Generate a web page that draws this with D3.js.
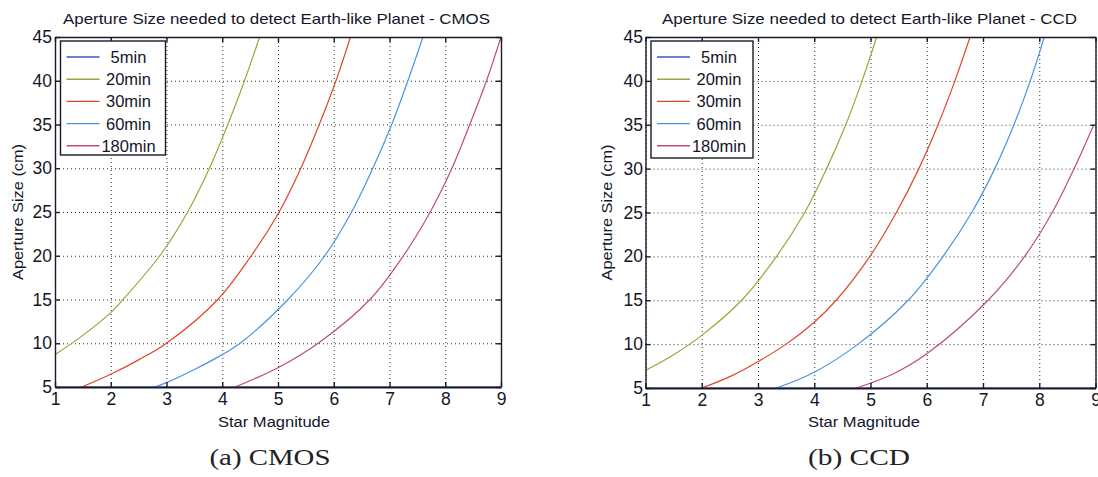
<!DOCTYPE html>
<html>
<head>
<meta charset="utf-8">
<script src="https://cdn.jsdelivr.net/npm/d3@7"></script>
<style>
  body { margin: 0; background: #fff; }
  svg { display: block; }
  text { font-family: "Liberation Sans", Arial, sans-serif; fill: #15152a; }
  .caption { font-family: "Liberation Serif", "DejaVu Serif", serif; fill: #222; }
</style>
</head>
<body>
<svg id="chart" width="1098" height="477"></svg>
<script>
// ticks
var magTicks = [1, 2, 3, 4, 5, 6, 7, 8, 9];
var apTicks = [5, 10, 15, 20, 25, 30, 35, 40, 45];

// legend
var seriesLabels = ["5min", "20min", "30min", "60min", "180min"];
var seriesColors = ["#4553c2", "#8fac3a", "#e0452a", "#4a93e6", "#c04c7c"];

// CMOS curves: [star magnitude, aperture cm]
var cmos5 = [[1, 5], [9, 5]];
var cmos20 = [[1, 8.7], [1.5, 10.9], [2, 13.5], [2.22, 15], [2.88, 20], [3.38, 25], [3.77, 30], [4.1, 35], [4.4, 40], [4.67, 45]];
var cmos30 = [[1.48, 5], [2, 6.45], [2.5, 8.1], [3, 10], [3.92, 15], [4.52, 20], [5.02, 25], [5.41, 30], [5.74, 35], [6.04, 40], [6.3, 45]];
var cmos60 = [[2.79, 5], [3, 5.5], [3.5, 7], [4, 8.7], [4.32, 10], [5.18, 15], [5.84, 20], [6.32, 25], [6.7, 30], [7.04, 35], [7.33, 40], [7.6, 45]];
var cmos180 = [[4.23, 5], [5, 7.2], [5.72, 10], [6.65, 15], [7.25, 20], [7.73, 25], [8.12, 30], [8.44, 35], [8.74, 40], [9, 45]];

// CCD curves
var ccd5 = [[1, 5], [9, 5]];
var ccd20 = [[1, 7], [1.5, 8.8], [2, 11], [2.71, 15], [3.33, 20], [3.83, 25], [4.22, 30], [4.56, 35], [4.85, 40], [5.11, 45]];
var ccd30 = [[2, 5], [2.5, 6.3], [3, 8], [3.5, 10], [4, 12.5], [4.39, 15], [4.99, 20], [5.46, 25], [5.86, 30], [6.2, 35], [6.5, 40], [6.77, 45]];
var ccd60 = [[3.33, 5], [4, 6.8], [4.78, 10], [5.67, 15], [6.29, 20], [6.8, 25], [7.21, 30], [7.55, 35], [7.84, 40], [8.09, 45]];
var ccd180 = [[4.75, 5], [5.4, 6.6], [6, 8.9], [7.09, 15], [7.74, 20], [8.23, 25], [8.62, 30], [8.97, 35]];

var svg = d3.select("#chart");

function drawPanel(opts) {
  var x = d3.scaleLinear().domain([1, 9]).range([opts.left, opts.right]);
  var y = d3.scaleLinear().domain([5, 45]).range([opts.bottom, opts.top]);
  var g = svg.append("g");

  var clipId = "clip-" + opts.id;
  g.append("clipPath").attr("id", clipId)
    .append("rect")
    .attr("x", opts.left).attr("y", opts.top)
    .attr("width", opts.right - opts.left).attr("height", opts.bottom - opts.top);

  // dotted grid
  g.append("g")
    .attr("transform", `translate(0, ${opts.bottom})`)
    .call(d3.axisBottom(x).tickValues(magTicks).tickSize(-(opts.bottom - opts.top)).tickFormat(""))
    .call(a => a.select(".domain").remove())
    .selectAll("line").attr("stroke", "#333").attr("stroke-dasharray", "1,3");
  g.append("g")
    .attr("transform", `translate(${opts.left}, 0)`)
    .call(d3.axisLeft(y).tickValues(apTicks).tickSize(-(opts.right - opts.left)).tickFormat(""))
    .call(a => a.select(".domain").remove())
    .selectAll("line").attr("stroke", "#333").attr("stroke-dasharray", "1,3");

  // curves
  var line = d3.line()
    .x(d => x(d[0]))
    .y(d => y(d[1]))
    .curve(d3.curveCatmullRom.alpha(0.5));
  g.append("g").attr("clip-path", `url(#${clipId})`)
    .selectAll("path")
    .data(opts.series)
    .enter()
    .append("path")
    .attr("d", d => line(d))
    .attr("fill", "none")
    .attr("stroke", (d, i) => seriesColors[i])
    .attr("stroke-width", 1.2);

  // axes with inside ticks on all four sides
  var bottomAxis = d3.axisBottom(x).tickValues(magTicks).tickSize(-5).tickPadding(6).tickSizeOuter(0);
  var leftAxis = d3.axisLeft(y).tickValues(apTicks).tickSize(-5).tickPadding(opts.yPad).tickSizeOuter(0);
  var xAxis = g.append("g").attr("transform", `translate(0, ${opts.bottom})`).call(bottomAxis);
  var yAxis = g.append("g").attr("transform", `translate(${opts.left}, 0)`).call(leftAxis);
  g.append("g").attr("transform", `translate(0, ${opts.top})`)
    .call(d3.axisTop(x).tickValues(magTicks).tickSize(-5).tickFormat("").tickSizeOuter(0));
  g.append("g").attr("transform", `translate(${opts.right}, 0)`)
    .call(d3.axisRight(y).tickValues(apTicks).tickSize(-5).tickFormat("").tickSizeOuter(0));

  g.selectAll(".domain").attr("stroke", "#1a1a2a").attr("stroke-width", 1.4);
  xAxis.select(".domain").attr("stroke-width", 1.8);
  g.selectAll(".tick line").filter(function() { return !this.getAttribute("stroke-dasharray"); })
    .attr("stroke", "#1a1a2a").attr("stroke-width", 1.4);
  g.selectAll(".tick text").attr("font-size", 17.5).attr("fill", "#15152a")
    .attr("font-family", "Liberation Sans, Arial, sans-serif");

  // title
  g.append("text")
    .attr("x", opts.titleX)
    .attr("y", 24)
    .attr("text-anchor", "middle")
    .attr("font-size", 15)
    .attr("textLength", opts.titleW)
    .attr("lengthAdjust", "spacingAndGlyphs")
    .text(opts.title);

  // axis labels
  g.append("text")
    .attr("x", opts.xLabelX)
    .attr("y", 427)
    .attr("text-anchor", "middle")
    .attr("font-size", 15.5)
    .attr("textLength", 112)
    .attr("lengthAdjust", "spacingAndGlyphs")
    .text("Star Magnitude");
  g.append("text")
    .attr("transform", `translate(${opts.left - opts.yLabelOff}, ${(opts.top + opts.bottom) / 2}) rotate(-90)`)
    .attr("text-anchor", "middle")
    .attr("font-size", 15.5)
    .attr("textLength", 136)
    .attr("lengthAdjust", "spacingAndGlyphs")
    .text("Aperture Size (cm)");

  // caption
  g.append("text")
    .attr("class", "caption")
    .attr("x", opts.captionX)
    .attr("y", 465)
    .attr("text-anchor", "middle")
    .attr("font-size", 23)
    .attr("textLength", opts.captionW)
    .attr("lengthAdjust", "spacingAndGlyphs")
    .text(opts.caption);

  // legend
  var lg = g.append("g").attr("transform", `translate(${opts.left + 5.5}, ${opts.top + 4})`);
  lg.append("rect")
    .attr("width", opts.legendW).attr("height", opts.legendH)
    .attr("fill", "#fff").attr("stroke", "#1a1a2a").attr("stroke-width", 1.4);
  seriesLabels.forEach(function(name, i) {
    var row = 16 + i * 22.2;
    lg.append("line")
      .attr("x1", 6).attr("x2", 39)
      .attr("y1", row).attr("y2", row)
      .attr("stroke", seriesColors[i]).attr("stroke-width", 1.4);
    lg.append("text")
      .attr("x", 68)
      .attr("y", row + 6)
      .attr("text-anchor", "middle")
      .attr("font-size", 16.5)
      .text(name);
  });
}

drawPanel({
  id: "cmos", left: 55, right: 501, top: 37, bottom: 387,
  title: "Aperture Size needed to detect Earth-like Planet - CMOS",
  titleX: 276.5, titleW: 427, xLabelX: 274, yLabelOff: 32, yPad: 3,
  caption: "(a) CMOS", captionX: 270, captionW: 121,
  legendW: 105, legendH: 114,
  series: [cmos5, cmos20, cmos30, cmos60, cmos180]
});

drawPanel({
  id: "ccd", left: 645.5, right: 1095.5, top: 37, bottom: 388,
  title: "Aperture Size needed to detect Earth-like Planet - CCD",
  titleX: 869.5, titleW: 415, xLabelX: 864, yLabelOff: 33.5, yPad: 2.5,
  caption: "(b) CCD", captionX: 859, captionW: 102,
  legendW: 102, legendH: 117,
  series: [ccd5, ccd20, ccd30, ccd60, ccd180]
});
</script>
</body>
</html>
